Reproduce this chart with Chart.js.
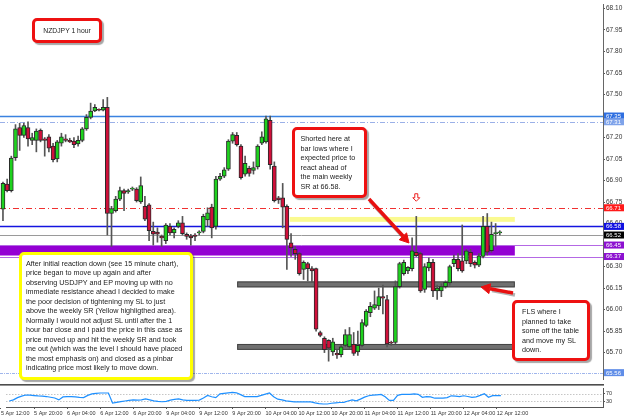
<!DOCTYPE html>
<html>
<head>
<meta charset="utf-8">
<script src="https://cdn.jsdelivr.net/npm/chart.js@4.4.1/dist/chart.umd.min.js"></script>
<style>
  html, body { margin: 0; padding: 0; background: #fff; }
  body { position: relative; width: 625px; height: 417px; overflow: hidden; font-family: "Liberation Sans", Arial, sans-serif; }
  canvas { position: absolute; left: 0; }
  #priceChart { top: 0; }
  #oscChart { top: 384px; }
  svg { position: absolute; left: 0; top: 0; }
  .note { position: absolute; box-sizing: border-box; background: #fff; color: #222; font-size: 7.2px; line-height: 9.6px; white-space: nowrap; box-shadow: 2px 2px 1px rgba(0,0,0,0.35); }
  .red { border: 3px solid #ee1111; border-radius: 5px; }
  .yellow { border: 3px solid #ffff00; border-radius: 5px; }
</style>
</head>
<body>
<canvas id="priceChart" width="625" height="384"></canvas>
<canvas id="oscChart" width="625" height="33"></canvas>

<svg width="625" height="417">
  <g fill="rgba(0,0,0,0.3)" stroke="rgba(0,0,0,0.3)">
    <line x1="370" y1="201" x2="405" y2="239" stroke-width="3.5"/>
    <line x1="515" y1="295" x2="492" y2="290.5" stroke-width="3.5"/>
  </g>
  <g fill="#e81010" stroke="#e81010">
    <line x1="369" y1="199" x2="403" y2="236" stroke-width="3.5"/>
    <polygon points="409,243 399.2,239.7 406.6,232.9" stroke-width="1"/>
    <line x1="513" y1="293" x2="490" y2="288.7" stroke-width="3.5"/>
    <polygon points="481,287 490.7,283.8 488.9,293.6" stroke-width="1"/>
  </g>
</svg>

<div class="note red" style="left:32px;top:18px;width:70px;height:25px;text-align:center;line-height:19px;font-size:6.8px;">NZDJPY 1 hour</div>
<div class="note red" style="left:292px;top:127px;width:75px;height:71px;padding:4px 0 0 5.5px;">Shorted here at<br>bar lows where I<br>expected price to<br>react ahead of<br>the main weekly<br>SR at 66.58.</div>
<div class="note yellow" style="left:19px;top:252px;width:174px;height:128px;padding:3.5px 0 0 4px;line-height:9.5px;">After initial reaction down (see 15 minute chart),<br>price began to move up again and after<br>observing USDJPY and EP moving up with no<br>immediate resistance ahead I decided to make<br>the poor decision of tightening my SL to just<br>above the weekly SR (Yellow highligthed area).<br>Normally I would not adjust SL until after the 1<br>hour bar close and I paid the price in this case as<br>price moved up and hit the weekly SR and took<br>me out (which was the level I should have placed<br>the most emphasis on) and closed as a pinbar<br>indicating price most likely to move down.</div>
<div class="note red" style="left:512px;top:300px;width:78px;height:61px;padding:4px 0 0 7px;">FLS where I<br>planned to take<br>some off the table<br>and move my SL<br>down.</div>

<script>
// hourly bars, index 0 = 5 Apr 12:00 (weekend skipped), first drawn bar is index 2
const firstBar = 2;

const open = [
  66.70, 66.875, 66.83, 67.06, 67.27, 67.215, 67.27, 67.18, 67.18, 67.25,
  67.19, 67.205, 67.14, 67.05, 67.16, 67.19, 67.18, 67.175, 67.155, 67.18,
  67.26, 67.34, 67.385, 67.395, 67.39, 67.41, 66.67, 66.69, 66.77, 66.83,
  66.82, 66.84, 66.84, 66.75, 66.72, 66.73, 66.545, 66.54, 66.51, 66.48,
  66.58, 66.535, 66.58, 66.605, 66.525, 66.515, 66.52, 66.535, 66.545, 66.625,
  66.715, 66.58, 66.91, 66.93, 66.98, 67.175, 67.215, 67.14, 66.945, 66.985,
  66.97, 66.995, 67.16, 67.17, 67.32, 67.00, 66.78, 66.78, 66.72, 66.465,
  66.42, 66.39, 66.28, 66.32, 66.285, 66.285, 65.84, 65.80, 65.785, 65.705,
  65.695, 65.685, 65.75, 65.74, 65.757, 65.705, 65.75, 65.89, 65.978, 66.01,
  66.025, 66.09, 66.07, 65.77, 65.77, 66.16, 66.25, 66.27, 66.285, 66.40,
  66.39, 66.14, 66.29, 66.33, 66.13, 66.13, 66.16, 66.185, 66.32, 66.35,
  66.34, 66.34, 66.40, 66.33, 66.31, 66.37, 66.58, 66.41, 66.53, 66.535
];
const high = [
  66.89, 66.91, 67.07, 67.29, 67.30, 67.30, 67.31, 67.23, 67.26, 67.26,
  67.20, 67.22, 67.16, 67.18, 67.23, 67.22, 67.195, 67.20, 67.21, 67.27,
  67.36, 67.44, 67.43, 67.40, 67.465, 67.48, 66.72, 66.79, 66.855, 66.84,
  66.84, 66.855, 66.85, 66.925, 66.79, 66.74, 66.61, 66.57, 66.52, 66.60,
  66.60, 66.57, 66.62, 66.65, 66.535, 66.525, 66.53, 66.55, 66.665, 66.71,
  66.735, 66.93, 66.95, 66.99, 67.185, 67.235, 67.235, 67.15, 67.07, 67.00,
  67.03, 67.15, 67.24, 67.35, 67.35, 67.03, 66.79, 66.88, 66.73, 66.53,
  66.44, 66.40, 66.34, 66.33, 66.30, 66.29, 65.85, 65.81, 65.79, 65.80,
  65.72, 65.75, 65.86, 65.875, 65.84, 65.85, 65.93, 66.00, 66.05, 66.13,
  66.15, 66.17, 66.10, 65.78, 66.20, 66.33, 66.345, 66.30, 66.50, 66.65,
  66.40, 66.32, 66.36, 66.35, 66.17, 66.18, 66.20, 66.31, 66.38, 66.39,
  66.59, 66.42, 66.42, 66.34, 66.39, 66.65, 66.67, 66.61, 66.60, 66.55
];
const low = [
  66.62, 66.82, 66.82, 67.04, 67.11, 67.20, 67.14, 67.15, 67.10, 67.17,
  67.07, 67.10, 67.03, 67.03, 67.14, 67.17, 67.165, 67.13, 67.14, 67.17,
  67.25, 67.33, 67.38, 67.385, 67.385, 66.52, 66.44, 66.68, 66.76, 66.69,
  66.81, 66.83, 66.75, 66.74, 66.62, 66.48, 66.45, 66.47, 66.44, 66.46,
  66.52, 66.50, 66.57, 66.52, 66.49, 66.45, 66.48, 66.52, 66.535, 66.58,
  66.50, 66.56, 66.90, 66.92, 66.97, 67.16, 67.14, 66.91, 66.93, 66.93,
  66.945, 66.98, 67.15, 67.16, 66.98, 66.75, 66.74, 66.57, 66.28, 66.37,
  66.35, 66.24, 66.21, 66.20, 66.19, 65.85, 65.81, 65.70, 65.64, 65.68,
  65.66, 65.67, 65.74, 65.73, 65.68, 65.68, 65.74, 65.88, 65.95, 66.00,
  66.00, 65.97, 65.74, 65.75, 65.76, 66.15, 66.24, 66.25, 66.27, 66.37,
  66.12, 66.12, 66.27, 66.09, 66.07, 66.09, 66.15, 66.17, 66.30, 66.27,
  66.26, 66.32, 66.30, 66.29, 66.30, 66.36, 66.38, 66.40, 66.44, 66.52
];
const close = [
  66.88, 66.83, 67.057, 67.26, 67.215, 67.284, 67.19, 67.20, 67.245, 67.18,
  67.18, 67.125, 67.046, 67.17, 67.205, 67.18, 67.17, 67.15, 67.18, 67.26,
  67.34, 67.385, 67.41, 67.39, 67.41, 66.67, 66.705, 66.77, 66.83, 66.81,
  66.83, 66.843, 66.76, 66.865, 66.63, 66.55, 66.525, 66.525, 66.50, 66.59,
  66.535, 66.56, 66.605, 66.53, 66.51, 66.50, 66.51, 66.538, 66.65, 66.675,
  66.57, 66.91, 66.93, 66.975, 67.175, 67.22, 67.15, 66.92, 67.02, 66.95,
  66.99, 67.14, 67.205, 67.33, 67.01, 66.76, 66.765, 66.715, 66.49, 66.43,
  66.39, 66.25, 66.33, 66.285, 66.27, 65.864, 65.82, 65.72, 65.73, 65.775,
  65.683, 65.74, 65.825, 65.825, 65.694, 65.75, 65.91, 65.99, 66.023, 66.035,
  66.09, 66.08, 65.76, 65.765, 66.16, 66.32, 66.33, 66.295, 66.41, 66.376,
  66.13, 66.30, 66.33, 66.13, 66.15, 66.16, 66.19, 66.30, 66.35, 66.285,
  66.27, 66.41, 66.32, 66.31, 66.375, 66.58, 66.40, 66.525, 66.533, 66.54
];
// oscillator in the lower window (0-100)
const oscValues = [
  32, 38, 50, 58, 64, 63, 61, 59, 58, 56,
  52, 48, 38, 54, 56, 56, 54, 51, 50, 62,
  70, 73, 75, 75, 75, 21, 25, 29, 32, 35,
  38, 37, 38, 43, 38, 33, 30, 28, 30, 37,
  41, 43, 38, 35, 35, 35, 37, 48, 62, 55,
  50, 70, 73, 76, 78, 76, 66, 56, 56, 56,
  56, 62, 69, 75, 55, 42, 38, 33, 30, 27,
  27, 27, 27, 27, 22, 18, 16, 16, 20, 22,
  24, 25, 32, 38, 33, 42, 53, 60, 63, 65,
  67, 55, 35, 35, 62, 67, 67, 68, 70, 68,
  52, 55, 54, 47, 47, 47, 50, 60, 58, 56,
  60, 56, 52, 54, 62, 71, 52, 61, 61, 61
];

const priceTicks = [68.10, 67.95, 67.80, 67.65, 67.50, 67.35, 67.20, 67.05, 66.90, 66.75,
                    66.60, 66.45, 66.30, 66.15, 66.00, 65.85, 65.70];
const tickIndex = [0, 8, 16, 24, 32, 40, 48, 56, 64, 72, 80, 88, 96, 104, 112, 120];
const tickLabels = ['5 Apr 12:00', '5 Apr 20:00', '6 Apr 04:00', '6 Apr 12:00', '6 Apr 20:00',
                    '9 Apr 04:00', '9 Apr 12:00', '9 Apr 20:00', '10 Apr 04:00', '10 Apr 12:00',
                    '10 Apr 20:00', '11 Apr 04:00', '11 Apr 12:00', '11 Apr 20:00', '12 Apr 04:00',
                    '12 Apr 12:00'];
const oscLevels = [70, 30];

// horizontal levels drawn on the chart and flagged on the price axis
const levelPrices = [67.35, 67.31, 66.71, 66.58, 66.52, 66.45, 66.37, 65.56];
const levelColor = ['#3b82e0', '#9ab0e8', '#f03030', '#1414e0', '#9a9a9a', '#b468e4', '#b468e4', '#a0b6ec'];
const levelDash = [[], [5, 2, 1, 2], [6, 3, 1, 3], [], [], [], [], [3, 1, 1, 1]];
const levelWidth = [1.6, 1, 1, 1.6, 1, 1, 1, 1];
const flagColor = ['#2f6fe0', '#7fa3ea', '#ff1a1a', '#1010e0', '#000000', '#8c10d0', '#8c10d0', '#5f8de8'];

// zones: price top / bottom and bar range
const zoneTop = [66.445, 66.646, 66.196, 65.760];
const zoneBottom = [66.377, 66.612, 66.155, 65.719];
const zoneFrom = [0, 70.7, 58.1, 58.1];
const zoneTo = [124.6, 124.6, 124.6, 124.6];
const zoneFill = ['#9400d3', '#fafa90', '#707070', '#707070'];
const zoneEdge = [null, null, '#444444', '#444444'];

// entry marker above the pinbar
const markBar = 101;
const markPrice = 66.78;

const xMin = 1.29, xMax = 145.72;
const bars = open.map((o, k) => firstBar + k);

const levelsPlugin = {
  id: 'levels',
  beforeDatasetsDraw(chart) {
    const { ctx, chartArea: a, scales: { x, y } } = chart;
    ctx.save();
    ctx.beginPath();
    ctx.rect(a.left, a.top, a.width, a.height);
    ctx.clip();
    zoneTop.forEach((t, k) => {
      const x0 = x.getPixelForValue(zoneFrom[k]);
      const x1 = x.getPixelForValue(zoneTo[k]);
      const y0 = y.getPixelForValue(t);
      const y1 = y.getPixelForValue(zoneBottom[k]);
      ctx.fillStyle = zoneFill[k];
      ctx.fillRect(x0, y0, x1 - x0, y1 - y0);
      if (zoneEdge[k]) {
        ctx.strokeStyle = zoneEdge[k];
        ctx.lineWidth = 1;
        ctx.strokeRect(x0 + 0.5, y0 + 0.5, x1 - x0 - 1, y1 - y0 - 1);
      }
    });
    levelPrices.forEach((p, k) => {
      const py = Math.round(y.getPixelForValue(p)) + 0.5;
      ctx.strokeStyle = levelColor[k];
      ctx.lineWidth = levelWidth[k];
      ctx.setLineDash(levelDash[k]);
      ctx.beginPath();
      ctx.moveTo(a.left, py);
      ctx.lineTo(a.right, py);
      ctx.stroke();
    });
    ctx.restore();
  },
  afterDraw(chart) {
    const { ctx, chartArea: a, scales: { x, y } } = chart;
    ctx.save();
    // down arrow symbol
    const mx = x.getPixelForValue(markBar);
    const my = y.getPixelForValue(markPrice);
    ctx.fillStyle = '#fff';
    ctx.strokeStyle = '#ee2020';
    ctx.lineWidth = 1;
    ctx.beginPath();
    ctx.moveTo(mx - 1.5, my - 4);
    ctx.lineTo(mx + 1.5, my - 4);
    ctx.lineTo(mx + 1.5, my);
    ctx.lineTo(mx + 3.5, my);
    ctx.lineTo(mx, my + 3.5);
    ctx.lineTo(mx - 3.5, my);
    ctx.lineTo(mx - 1.5, my);
    ctx.closePath();
    ctx.fill();
    ctx.stroke();
    // price flags on the axis
    ctx.font = '6px "Liberation Sans", Arial, sans-serif';
    ctx.textBaseline = 'middle';
    ctx.textAlign = 'left';
    levelPrices.forEach((p, k) => {
      const py = y.getPixelForValue(p);
      ctx.fillStyle = flagColor[k];
      ctx.fillRect(a.right + 1, py - 3.5, 20, 7);
      ctx.fillStyle = '#fff';
      ctx.fillText(p.toFixed(2), a.right + 3, py + 0.3);
    });
    ctx.restore();
  }
};

new Chart(document.getElementById('priceChart'), {
  type: 'bar',
  data: {
    datasets: [
      {
        label: 'body',
        data: bars.map((b, k) => ({ x: b, y: [open[k], close[k]] })),
        backgroundColor: bars.map((b, k) => close[k] >= open[k] ? '#1ed21e' : '#d0103a'),
        borderColor: '#2a2a2a',
        borderWidth: 1,
        borderSkipped: false,
        barThickness: 4,
        minBarLength: 1,
        grouped: false,
        order: 1
      },
      {
        label: 'wick',
        data: bars.map((b, k) => ({ x: b, y: [low[k], high[k]] })),
        backgroundColor: '#555',
        barThickness: 1,
        grouped: false,
        order: 2
      }
    ]
  },
  options: {
    responsive: false,
    animation: false,
    devicePixelRatio: 1,
    layout: { padding: 0, autoPadding: false },
    plugins: { legend: { display: false }, tooltip: { enabled: false } },
    scales: {
      x: { type: 'linear', min: xMin, max: xMax, display: false, offset: false },
      y: {
        position: 'right',
        min: 65.515,
        max: 68.125,
        afterFit: s => { s.width = 22; },
        afterBuildTicks: s => { s.ticks = priceTicks.map(v => ({ value: v })); },
        ticks: {
          font: { size: 6.5, family: 'Liberation Sans' },
          color: '#333',
          padding: 1,
          callback: v => v.toFixed(2)
        },
        grid: { drawOnChartArea: false, tickLength: 2, color: '#555' },
        border: { color: '#666' }
      }
    }
  },
  plugins: [levelsPlugin]
});

const oscPlugin = {
  id: 'oscFrame',
  beforeDatasetsDraw(chart) {
    const { ctx, chartArea: a, scales: { y } } = chart;
    ctx.save();
    ctx.fillStyle = '#4d4d4d';
    ctx.fillRect(0, 0, a.right + 1, 1.6);
    ctx.strokeStyle = '#aaa';
    ctx.lineWidth = 1;
    ctx.setLineDash([1, 2]);
    oscLevels.forEach(v => {
      const py = Math.round(y.getPixelForValue(v)) + 0.5;
      ctx.beginPath();
      ctx.moveTo(a.left, py);
      ctx.lineTo(a.right, py);
      ctx.stroke();
    });
    ctx.restore();
  }
};

new Chart(document.getElementById('oscChart'), {
  type: 'line',
  data: {
    datasets: [{
      data: bars.map((b, k) => ({ x: b, y: oscValues[k] })),
      borderColor: '#1e90ff',
      borderWidth: 1.2,
      pointRadius: 0,
      tension: 0
    }]
  },
  options: {
    responsive: false,
    animation: false,
    devicePixelRatio: 1,
    layout: { padding: { top: 1.5, left: 0, right: 0, bottom: 0 }, autoPadding: false },
    plugins: { legend: { display: false }, tooltip: { enabled: false } },
    scales: {
      x: {
        type: 'linear',
        min: xMin,
        max: xMax,
        afterFit: s => { s.height = 10; },
        afterBuildTicks: s => { s.ticks = tickIndex.map(v => ({ value: v })); },
        ticks: {
          align: 'start',
          maxRotation: 0,
          autoSkip: false,
          font: { size: 5.5, family: 'Liberation Sans' },
          color: '#333',
          padding: 1,
          callback: v => tickLabels[tickIndex.indexOf(v)]
        },
        grid: { drawOnChartArea: false, tickLength: 2, color: '#555' },
        border: { color: '#555' }
      },
      y: {
        position: 'right',
        min: 0,
        max: 100,
        afterFit: s => { s.width = 22; },
        afterBuildTicks: s => { s.ticks = oscLevels.map(v => ({ value: v })); },
        ticks: { font: { size: 5.5, family: 'Liberation Sans' }, color: '#333', padding: 1 },
        grid: { drawOnChartArea: false, tickLength: 2, color: '#555' },
        border: { color: '#555' }
      }
    }
  },
  plugins: [oscPlugin]
});
</script>
</body>
</html>
